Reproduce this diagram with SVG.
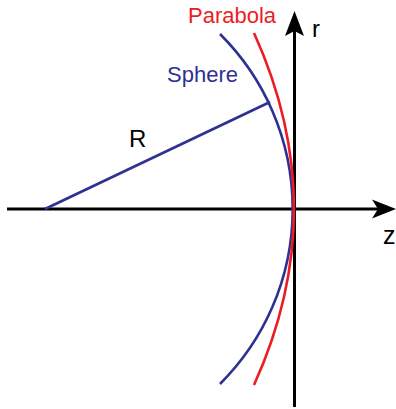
<svg xmlns="http://www.w3.org/2000/svg" width="396" height="409" viewBox="0 0 396 409">
<style>
.axis{stroke:#000;stroke-width:3;fill:none}
.head{fill:#000}
.blue{stroke:#2E3192;stroke-width:2.6;fill:none}
.red{stroke:#ED1C24;stroke-width:2.6;fill:none}
text{font-family:"Liberation Sans",Arial,sans-serif}
</style>
<rect width="396" height="409" fill="#fff"/>
<g id="connectors">
<g id="z-axis">
<line class="axis" x1="7" y1="209" x2="380" y2="209"/>
<polygon class="head" points="396,209 372,199.5 378,209 372,218.5"/>
</g>
<g id="r-axis">
<line class="axis" x1="294.5" y1="407" x2="294.5" y2="30"/>
<polygon class="head" points="294.5,11 285,36 294.5,31 304,36"/>
</g>
<line id="radius" class="blue" x1="45" y1="209" x2="270" y2="102"/>
</g>
<g id="sphere">
<path class="blue" d="M220,34 A247,247 0 0 1 220,384"/>
<text x="167" y="82" font-size="22" fill="#2E3192">Sphere</text>
</g>
<g id="parabola">
<path class="red" d="M254,33 Q334,209 254,385"/>
<text x="188" y="23" font-size="22" fill="#ED1C24">Parabola</text>
</g>
<g id="labels">
<text x="129" y="147" font-size="24" fill="#000">R</text>
<text x="312" y="37" font-size="24" fill="#000">r</text>
<text x="383" y="244" font-size="25" fill="#000">z</text>
</g>
</svg>
